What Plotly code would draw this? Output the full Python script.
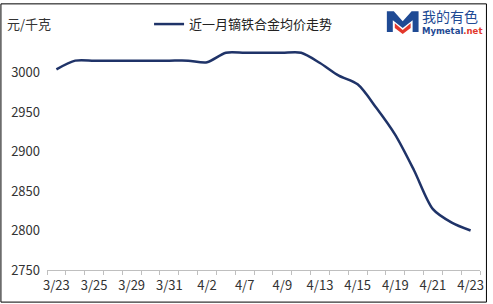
import plotly.graph_objects as go

dates = ['3/23','3/24','3/25','3/28','3/29','3/30','3/31','4/1','4/2','4/6','4/7','4/8',
         '4/9','4/12','4/13','4/14','4/15','4/18','4/19','4/20','4/21','4/22','4/23']
prices = [3004, 3015, 3015, 3015, 3015, 3015, 3015, 3015, 3013, 3025, 3025, 3025,
          3025, 3025, 3012, 2996, 2985, 2955, 2921, 2876, 2827, 2810, 2800]
shown_labels = ['3/23','3/25','3/29','3/31','4/2','4/7','4/9','4/13','4/15','4/19','4/21','4/23']
y_ticks = [2750, 2800, 2850, 2900, 2950, 3000]
series_name = '近一月镝铁合金均价走势'

W, H = 493, 304
L, R, T, B = 47, 9, 30, 34
PW, PH = W - L - R, H - T - B

def px(x):
    return (x - L) / PW

def py(y):
    return (H - B - y) / PH

FONT = 'Noto Sans CJK SC, Noto Sans, sans-serif'
ticktext = [d if d in shown_labels else '' for d in dates]

fig = go.Figure()
fig.add_trace(go.Scatter(
    x=dates, y=prices, mode='lines', name=series_name,
    line=dict(color='#1F3368', width=2.5, shape='spline', smoothing=0.8),
))

fig.update_layout(
    width=W, height=H,
    margin=dict(l=L, r=R, t=T, b=B, pad=0),
    paper_bgcolor='white', plot_bgcolor='white',
    font=dict(family=FONT, size=13, color='#333333'),
    showlegend=True,
    legend=dict(orientation='h', x=px(150), y=py(21), xanchor='left', yanchor='middle',
                font=dict(size=13, color='#222222'), itemwidth=30,
                bgcolor='rgba(0,0,0,0)'),
    xaxis=dict(type='category', tickmode='array', tickvals=dates, ticktext=ticktext,
               tickson='boundaries', ticks='outside', ticklen=4, tickcolor='#BFBFBF',
               showline=True, linecolor='#BFBFBF', linewidth=1, showgrid=False,
               tickangle=0, tickfont=dict(size=13, color='#333333'),
               ticklabelstandoff=3,
               range=[-0.5, len(dates) - 0.5], fixedrange=True),
    yaxis=dict(range=[2750, 3050], tickmode='array', tickvals=y_ticks,
               showgrid=False, zeroline=False, showline=False, ticks='',
               ticklabelstandoff=6,
               tickfont=dict(size=13, color='#333333'), fixedrange=True),
)

# unit label
fig.add_annotation(text='元/千克', x=px(5), y=py(20), xref='paper', yref='paper',
                   xanchor='left', yanchor='middle', showarrow=False,
                   font=dict(size=13, color='#333333'))

# logo: M mark
m_path = ('M {x0},{y0} L {x0},{y1} L {x2},{y1} L {xm},{ym} L {x3},{y1} L {x4},{y1} L {x4},{y0} '
          'L {x5},{y0} L {x5},{y6} L {xm},{y7} L {x6},{y6} L {x6},{y0} Z')
pts = dict(x0=px(390), y0=py(29), y1=py(8), x2=px(397), xm=px(406), ym=py(18),
           x3=px(415), x4=px(422), x5=px(416), y6=py(17), y7=py(25), x6=px(396))
fig.add_shape(type='path', xref='paper', yref='paper', path=m_path.format(**pts),
              fillcolor='#1F4A94', line=dict(width=0))
red_path = 'M {a},{b} L {c},{d} L {e},{b} L {e},{f} L {c},{g} L {a},{f} Z'.format(
    a=px(398), b=py(20), c=px(406), d=py(27), e=px(414), f=py(25), g=py(31))
fig.add_shape(type='path', xref='paper', yref='paper', path=red_path,
              fillcolor='#E2372B', line=dict(width=0))
fig.add_annotation(text='我的有色', x=px(424), y=py(13), xref='paper', yref='paper',
                   xanchor='left', yanchor='middle', showarrow=False,
                   font=dict(size=14, color='#1F4A94'), borderpad=0)
fig.add_annotation(text='<b>Mymetal<span style="color:#E2372B">.net</span></b>',
                   x=px(424), y=py(28), xref='paper', yref='paper',
                   xanchor='left', yanchor='middle', showarrow=False, borderpad=0,
                   font=dict(size=8.5, color='#1F4A94', family='DejaVu Sans, sans-serif'))

# outer border
fig.add_shape(type='rect', xref='paper', yref='paper',
              x0=px(0.5), x1=px(490.5), y0=py(302.5), y1=py(0.5),
              line=dict(color='black', width=1), fillcolor='rgba(0,0,0,0)')

fig.write_html('out.html')
